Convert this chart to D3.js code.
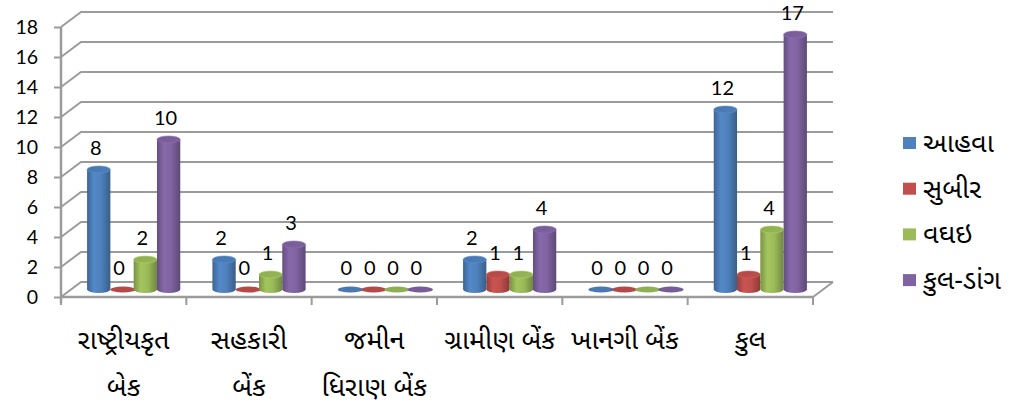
<!DOCTYPE html>
<html>
<head>
<meta charset="utf-8">
<script src="https://cdn.jsdelivr.net/npm/d3@7"></script>
<style>
  body { margin: 0; background: #fff; }
  text { font-family: Lato, "Noto Sans Gujarati", "Lohit Gujarati", Shruti, sans-serif; fill: #000; }
  .guj { font-family: "Noto Sans Gujarati", "Lohit Gujarati", Shruti, "Noto Sans", sans-serif; }
</style>
</head>
<body>
<div id="chart"></div>
<script>
// categories (line breaks as in the picture)
const categories = [
  ["રાષ્ટ્રીયકૃત", "બેક"],
  ["સહકારી", "બેંક"],
  ["જમીન", "ધિરાણ બેંક"],
  ["ગ્રામીણ બેંક"],
  ["ખાનગી બેંક"],
  ["કુલ"]
];
const seriesNames = ["આહવા", "સુબીર", "વઘઇ", "કુલ-ડાંગ"];
const ahwa   = [8, 2, 0, 2, 0, 12];
const subir  = [0, 0, 0, 1, 0, 1];
const vaghai = [2, 1, 0, 1, 0, 4];
const kulDang = [10, 3, 0, 4, 0, 17];
const yTicks = [0, 2, 4, 6, 8, 10, 12, 14, 16, 18];
const colors = ["#4f81bd", "#c0504d", "#9bbb59", "#8064a2"];

const seriesValues = [ahwa, subir, vaghai, kulDang];

const width = 1018, height = 406;
const depthX = 20, depthY = -15;

const svg = d3.select("#chart").append("svg")
  .attr("width", width)
  .attr("height", height);

const catKeys = categories.map((c, i) => i);
const x = d3.scaleBand().domain(catKeys).range([61, 813]);
const xInner = d3.scaleBand().domain(d3.range(seriesNames.length))
  .range([0, x.bandwidth()]).paddingInner(0).paddingOuter(0.69);
const y = d3.scaleLinear().domain([0, 18]).range([297, 27]);

const grid = "#9b9b9b";

// gridlines: diagonal on the left side wall + horizontal on the back wall
const gl = svg.append("g");
yTicks.forEach(t => {
  gl.append("path")
    .attr("d", `M${x.range()[0]},${y(t)} L${x.range()[0] + depthX},${y(t) + depthY} L${x.range()[1] + depthX},${y(t) + depthY}`)
    .attr("fill", "none").attr("stroke", grid).attr("stroke-width", 2);
});
// floor right edge
gl.append("line")
  .attr("x1", x.range()[1]).attr("y1", y(0))
  .attr("x2", x.range()[1] + depthX).attr("y2", y(0) + depthY)
  .attr("stroke", grid).attr("stroke-width", 2);

// y axis (front)
const yAxis = d3.axisLeft(y).tickValues(yTicks).tickSize(7).tickPadding(16);
const ya = svg.append("g").attr("transform", `translate(${x.range()[0]},0)`).call(yAxis);
ya.select(".domain").attr("stroke", grid).attr("stroke-width", 2.5).attr("d", `M0,${y(18)}V${y(0) + 6}`);
ya.selectAll(".tick line").attr("stroke", grid).attr("stroke-width", 2);
ya.selectAll(".tick text").style("font-size", "19.5px").style("font-family", "Lato, sans-serif");

// x axis (front)
const xa = svg.append("g").attr("transform", `translate(0,${y(0)})`);
xa.append("line").attr("x1", x.range()[0]).attr("x2", x.range()[1])
  .attr("stroke", grid).attr("stroke-width", 2.5);
const bounds = catKeys.map(k => x(k)).concat([x.range()[1]]);
xa.selectAll(".xt").data(bounds).join("line")
  .attr("x1", d => d).attr("x2", d => d).attr("y1", 0).attr("y2", 8)
  .attr("stroke", grid).attr("stroke-width", 2);

// category labels
const cl = svg.append("g");
categories.forEach((lines, i) => {
  const t = cl.append("text").attr("class", "guj")
    .attr("text-anchor", "middle")
    .attr("x", x(i) + x.bandwidth() / 2)
    .attr("y", 349)
    .style("font-size", "27px");
  lines.forEach((ln, j) => {
    t.append("tspan").attr("x", x(i) + x.bandwidth() / 2).attr("dy", j === 0 ? 0 : 47).text(ln);
  });
});

// gradients
const defs = svg.append("defs");
colors.forEach((c, i) => {
  const base = d3.color(c);
  const g = defs.append("linearGradient").attr("id", "body" + i)
    .attr("x1", "0%").attr("x2", "100%").attr("y1", "0%").attr("y2", "0%");
  g.append("stop").attr("offset", "0%").attr("stop-color", base.darker(0.7));
  g.append("stop").attr("offset", "30%").attr("stop-color", base.brighter(0.15));
  g.append("stop").attr("offset", "60%").attr("stop-color", base);
  g.append("stop").attr("offset", "100%").attr("stop-color", base.darker(0.9));
  const t = defs.append("linearGradient").attr("id", "top" + i)
    .attr("x1", "0%").attr("x2", "100%").attr("y1", "0%").attr("y2", "100%");
  t.append("stop").attr("offset", "0%").attr("stop-color", base.darker(0.25));
  t.append("stop").attr("offset", "100%").attr("stop-color", base.darker(0.05));
});

// cylinders
const bars = svg.append("g");
const labels = svg.append("g");
const ry = 3.5;
categories.forEach((c, ci) => {
  seriesValues.forEach((vals, si) => {
    const v = vals[ci];
    const left = x(ci) + xInner(si) + depthX / 2;
    const w = xInner.bandwidth();
    const rx = w / 2;
    const cx = left + rx;
    const baseY = y(0) + depthY / 2;
    const topY = y(v) + depthY / 2;
    if (v > 0) {
      bars.append("path")
        .attr("d", `M${left},${topY} L${left},${baseY} A${rx},${ry} 0 0 0 ${left + w},${baseY} L${left + w},${topY} Z`)
        .attr("fill", `url(#body${si})`);
      bars.append("ellipse")
        .attr("cx", cx).attr("cy", topY).attr("rx", rx).attr("ry", ry)
        .attr("fill", `url(#top${si})`)
        .attr("stroke", d3.color(colors[si]).brighter(0.3)).attr("stroke-width", 0.6);
    } else {
      bars.append("ellipse")
        .attr("cx", cx + 1).attr("cy", baseY).attr("rx", rx + 1).attr("ry", 3)
        .attr("fill", d3.color(colors[si]).darker(0.2));
    }
    labels.append("text")
      .attr("x", cx - 3)
      .attr("y", topY - 15)
      .attr("text-anchor", "middle")
      .style("font-size", "20px")
      .style("font-family", "Lato, sans-serif")
      .text(v);
  });
});

// legend
const lg = svg.append("g");
seriesNames.forEach((n, i) => {
  const cy = 143 + i * 45.7;
  lg.append("rect").attr("x", 903).attr("y", cy - 6).attr("width", 13).attr("height", 12)
    .attr("fill", colors[i]);
  lg.append("text").attr("class", "guj").attr("x", 923).attr("y", cy + 9)
    .style("font-size", "27px").text(n);
});
</script>
</body>
</html>
